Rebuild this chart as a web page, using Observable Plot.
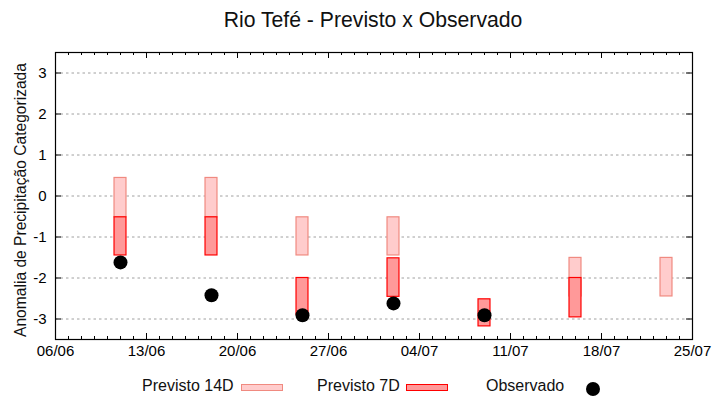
<!DOCTYPE html>
<html><head><meta charset="utf-8">
<script src="https://cdn.jsdelivr.net/npm/d3@7"></script>
<script src="https://cdn.jsdelivr.net/npm/@observablehq/plot@0.6"></script>
<style>
body{margin:0;background:#fff;font-family:"Liberation Sans",Arial,sans-serif;}
#wrap{position:relative;width:720px;height:400px;overflow:hidden;background:#fff}
#title{position:absolute;left:55px;width:636px;top:0;height:36px;line-height:40px;text-align:center;font-size:21.2px;color:#111}
#chart{position:absolute;left:0;top:36px}
#ylab{position:absolute;left:20.6px;top:199.7px;transform-origin:0 0;transform:rotate(-90deg) translate(-50%,-50%);white-space:nowrap;font-size:15.6px;line-height:15.6px;color:#111}
.lg{position:absolute;font-size:16px;color:#111;line-height:16px;top:378px}
.sw{position:absolute;height:5px;top:384px;width:40px}
.dot{position:absolute;width:14px;height:14px;border-radius:50%;background:#000;left:586px;top:382px}
</style></head>
<body><div id="wrap">
<div id="title">Rio Tefé - Previsto x Observado</div>
<div id="chart"></div>
<div id="ylab">Anomalia de Precipitação Categorizada</div>
<span class="lg" style="left:142px">Previsto 14D</span>
<div class="sw" style="left:241px;background:#ffcccc;border:1px solid #f08a80"></div>
<span class="lg" style="left:317px">Previsto 7D</span>
<div class="sw" style="left:406px;background:#ff9999;border:1px solid #ff0000"></div>
<span class="lg" style="left:486px">Observado</span>
<div class="dot"></div>
</div>
<script>
const dates = ["2024-06-11","2024-06-18","2024-06-25","2024-07-02","2024-07-09","2024-07-16","2024-07-23"];
const p14Low  = [-0.52, -0.52, -1.45, -1.45, null, -2.45, -2.45];
const p14High = [0.44, 0.44, -0.52, -0.52, null, -1.51, -1.51];
const p7Low   = [-1.45, -1.45, -2.9, -2.46, -3.18, -2.96, null];
const p7High  = [-0.52, -0.52, -2.0, -1.52, -2.52, -2.0, null];
const observed = [-1.62, -2.42, -2.91, -2.62, -2.91, null, null];
const xStart = "2024-06-06", xEnd = "2024-07-25";
const yTicks = [-3, -2, -1, 0, 1, 2, 3];

const parse = d3.utcParse("%Y-%m-%d");
const rows = dates.map((d, i) => ({date: parse(d), l14: p14Low[i], h14: p14High[i], l7: p7Low[i], h7: p7High[i], obs: observed[i]}));
const d0 = parse(xStart), d1 = parse(xEnd);
const majors = d3.range(0, 50, 7).map(k => d3.utcDay.offset(d0, k));
const minors = d3.utcDay.range(d0, d3.utcDay.offset(d1, 1));
const half = 0.46 * 864e5;
const W = 720, H = 330, mL = 55, mR = 28, mT = 16, mB = 27;
const iW = W - mL - mR, iH = H - mT - mB;

const chart = Plot.plot({
  width: W, height: H,
  marginLeft: mL, marginRight: mR, marginTop: mT, marginBottom: mB,
  style: {fontFamily: "Liberation Sans, Arial, sans-serif", fontSize: "15px", color: "#000", background: "#fff"},
  x: {type: "utc", domain: [d0, d1]},
  y: {domain: [-3.5, 3.5]},
  marks: [
    Plot.ruleY(yTicks, {stroke: "#a0a0a0", strokeDasharray: "2.5,3", strokeWidth: 1}),
    Plot.rect(rows.filter(r => r.l14 != null), {x1: r => new Date(+r.date - half), x2: r => new Date(+r.date + half), y1: "l14", y2: "h14", fill: "#ffcccc", stroke: "#f08a80", strokeWidth: 1.2}),
    Plot.rect(rows.filter(r => r.l7 != null), {x1: r => new Date(+r.date - half), x2: r => new Date(+r.date + half), y1: "l7", y2: "h7", fill: "#ff9999", stroke: "#ff0000", strokeWidth: 1.2}),
    Plot.dot(rows.filter(r => r.obs != null), {x: "date", y: "obs", r: 7, fill: "#000", stroke: "none"}),
    Plot.tickX(minors, {x: d => d, insetTop: iH - 3, stroke: "#000"}),
    Plot.tickX(minors, {x: d => d, insetBottom: iH - 3, stroke: "#000"}),
    Plot.tickX(majors, {x: d => d, insetTop: iH - 6, stroke: "#000"}),
    Plot.tickX(majors, {x: d => d, insetBottom: iH - 6, stroke: "#000"}),
    Plot.tickY(yTicks, {y: d => d, insetRight: iW - 6, stroke: "#000"}),
    Plot.tickY(yTicks, {y: d => d, insetLeft: iW - 6, stroke: "#000"}),
    Plot.frame({stroke: "#000", strokeWidth: 1.2}),
    Plot.axisX({ticks: majors, tickFormat: d3.utcFormat("%d/%m"), tickSize: 0, tickPadding: 6, label: null}),
    Plot.axisY({ticks: yTicks, tickFormat: d => String(d), tickSize: 0, tickPadding: 9, label: null})
  ]
});
document.getElementById("chart").appendChild(chart);
</script>
</body></html>
